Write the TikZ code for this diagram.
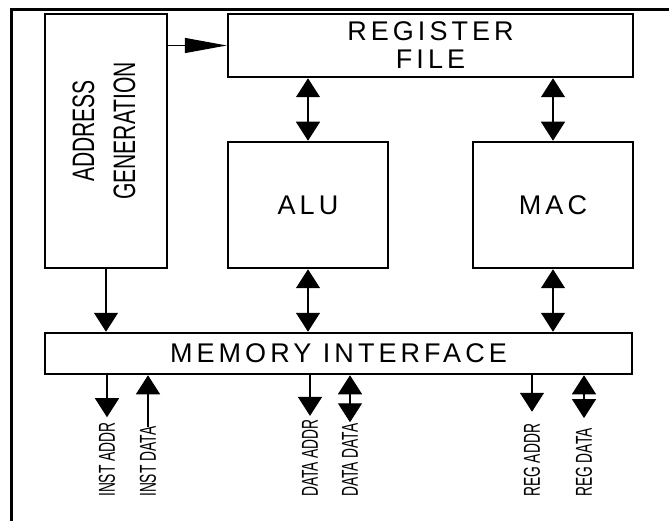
\documentclass[tikz,border=0pt]{standalone}
\usepackage{fontspec}
\setmainfont{Liberation Sans}
\newfontfamily\spacedfont[LetterSpace=15]{Liberation Sans}
\usepackage{graphicx}
\usetikzlibrary{arrows.meta,positioning,calc}

\newcommand{\condensed}[1]{\scalebox{0.6}[1]{#1}}
\tikzset{
  blk/.style={draw,line width=2.5pt,inner sep=0pt,align=center,
    font=\spacedfont\fontsize{27}{28}\selectfont},
  sig/.style={line width=1.3pt,-{Triangle[length=19pt,width=24pt]}},
  bus/.style={line width=1.3pt,{Triangle[length=19pt,width=24pt]}-{Triangle[length=19pt,width=24pt]}},
  pin/.style={rotate=90,anchor=west,inner sep=0pt,font=\fontsize{23}{23}\selectfont},
}

\begin{document}
\begin{tikzpicture}[x=1pt,y=-1pt]
  \useasboundingbox (0,0) rectangle (669,521);
  \clip (0,0) rectangle (669,521);
  % outer frame (cut off at right and bottom)
  \draw[line width=3pt] (11,600) |- (720,10);
  % blocks
  \node[blk,minimum width=122pt,minimum height=254pt] (agen) at (106,141) {};
  \node[rotate=90,align=center,inner sep=0pt,font=\fontsize{31}{41}\selectfont]
    (agentext) at (104,131) {\scalebox{0.68}[1]{ADDRESS}\\\scalebox{0.68}[1]{GENERATION}};
  \node[blk,minimum width=405pt,minimum height=63pt] (reg) at (430.5,45.5) {REGISTER\\FILE};
  \node[blk,minimum width=160pt,minimum height=126pt] (alu) at (308,205) {ALU};
  \node[blk,minimum width=160pt,minimum height=126pt] (mac) at (553,205) {MAC};
  \node[blk,minimum width=587pt,minimum height=41pt] (mem) at (338.5,353.5) {MEMORY INTERFACE};
  % connections between blocks
  \draw[line width=1.3pt,-{Triangle[length=42pt,width=15pt]}] (agen.east |- reg.west) -- (reg.west);
  \draw[bus] (reg.south -| alu.north) -- (alu.north);
  \draw[bus] (reg.south -| mac.north) -- (mac.north);
  \draw[sig] (agen.south) -- (mem.north -| agen.south);
  \draw[bus] (alu.south) -- (mem.north -| alu.south);
  \draw[bus] (mac.south) -- (mem.north -| mac.south);
  % external signals
  \node[pin] (iaddr) at (107,497) {\condensed{INST ADDR}};
  \node[pin] (idata) at (148,497) {\condensed{INST DATA}};
  \node[pin] (daddr) at (310,497) {\condensed{DATA ADDR}};
  \node[pin] (ddata) at (350,497) {\condensed{DATA DATA}};
  \node[pin] (raddr) at (532,497) {\condensed{REG ADDR}};
  \node[pin] (rdata) at (584,497) {\condensed{REG DATA}};
  \draw[sig,shorten >=5pt] (mem.south -| iaddr.east) -- (iaddr.east);
  \draw[sig] (idata.east) -- (mem.south -| idata.east);
  \draw[sig,shorten >=3pt] (mem.south -| daddr.east) -- (daddr.east);
  \draw[bus,shorten >=1pt] (mem.south -| ddata.east) -- (ddata.east);
  \draw[sig,shorten >=12pt] (mem.south -| raddr.east) -- (raddr.east);
  \draw[bus,shorten >=10pt] (mem.south -| rdata.east) -- (rdata.east);
\end{tikzpicture}
\end{document}
